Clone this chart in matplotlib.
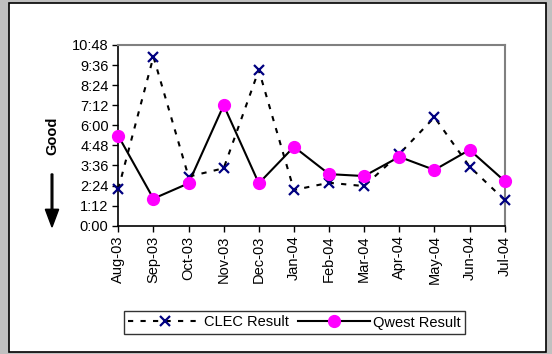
import matplotlib.pyplot as plt
from matplotlib.patches import Rectangle, FancyArrow
from matplotlib.ticker import FuncFormatter, MultipleLocator

plt.rcParams['font.family'] = ['Liberation Sans', 'DejaVu Sans']

# months on the x axis
months = ["Aug-03", "Sep-03", "Oct-03", "Nov-03", "Dec-03", "Jan-04",
          "Feb-04", "Mar-04", "Apr-04", "May-04", "Jun-04", "Jul-04"]

# results in minutes
clec_minutes = [132, 606, 176, 206, 558, 128, 154, 142, 257, 389, 212, 92]
qwest_minutes = [322, 97, 152, 432, 152, 283, 185, 178, 247, 200, 272, 160]


def hmm(v, pos):
    v = int(round(v))
    return f"{v // 60}:{v % 60:02d}"


fig = plt.figure(figsize=(5.52, 3.54), dpi=100)
fig.patch.set_facecolor("#c0c0c0")

# white chart area with black frame
fig.patches.append(Rectangle((9 / 552, 1 - 352 / 354), 537 / 552, 349 / 354,
                             transform=fig.transFigure, facecolor="white",
                             edgecolor="black", linewidth=1.2, zorder=-5))

ax = fig.add_axes([118.3 / 552, 128.3 / 354, 386.4 / 552, 180.7 / 354])
ax.set_zorder(2)
x = list(range(len(months)))

ax.plot(x, clec_minutes, color="black", linestyle=(0, (2.5, 3.5)), linewidth=1.5,
        marker="x", markersize=7.5, markeredgecolor="#000080",
        markeredgewidth=1.6, label="CLEC Result", clip_on=False, zorder=3)
ax.plot(x, qwest_minutes, color="black", linestyle="-", linewidth=1.5,
        marker="o", markersize=8.5, markerfacecolor="#ff00ff",
        markeredgecolor="#ff00ff", label="Qwest Result", clip_on=False, zorder=4)

ax.set_xlim(0, len(months) - 1)
ax.set_ylim(0, 648)
ax.yaxis.set_major_locator(MultipleLocator(72))
ax.yaxis.set_major_formatter(FuncFormatter(hmm))
ax.set_xticks(x)
ax.set_xticklabels(months, rotation=90)
ax.tick_params(axis="both", direction="out", length=4, width=1,
               labelsize=10.5, colors="black", pad=3)

for side in ["left", "bottom"]:
    ax.spines[side].set_color("black")
    ax.spines[side].set_linewidth(1.2)
for side in ["top", "right"]:
    ax.spines[side].set_color("#808080")
    ax.spines[side].set_linewidth(1.5)

# "Good" with downward arrow
fig.text(52 / 552, 1 - 136 / 354, "Good", rotation=90, ha="center",
         va="center", fontsize=10.5, fontweight="bold")
fig.patches.append(FancyArrow(
    52 / 552, 1 - 174 / 354, 0, -53 / 354, width=0.003, head_width=0.024,
    head_length=0.05, length_includes_head=True, color="black",
    transform=fig.transFigure))

leg = fig.legend(loc="center", bbox_to_anchor=(294.5 / 552, 1 - 322.5 / 354),
                 ncol=2, fontsize=10.5, frameon=True, fancybox=False,
                 edgecolor="black", handlelength=5, handletextpad=0.2,
                 columnspacing=0.6, borderpad=0.3)
leg.get_frame().set_linewidth(1)

fig.savefig("out.png", dpi=100, facecolor=fig.get_facecolor())
